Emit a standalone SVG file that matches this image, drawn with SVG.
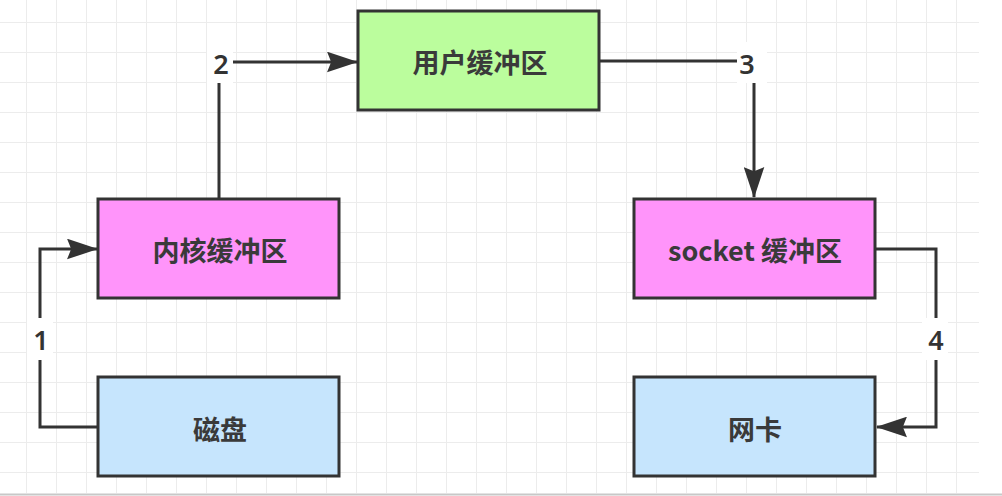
<svg xmlns="http://www.w3.org/2000/svg" width="1002" height="496" viewBox="0 0 1002 496">
  <defs>
    <pattern id="grid" x="0" y="0" width="30" height="30" patternUnits="userSpaceOnUse" patternTransform="translate(26 22)">
      <path d="M0 0 H30 M0 0 V30" fill="none" stroke="#ececec" stroke-width="2"/>
    </pattern>
    <marker id="arr" viewBox="0 0 30 20" refX="29" refY="10" markerWidth="31" markerHeight="21" markerUnits="userSpaceOnUse" orient="auto">
      <path d="M0 0 L30 10 L0 20 L4 10 Z" fill="#333333"/>
    </marker>
    <style>
      .box{stroke:#333333;stroke-width:3}
      .lbl{font-family:"Noto Sans CJK SC","Noto Sans",sans-serif;font-size:27px;font-weight:bold;fill:#3a3a3a;text-anchor:middle;dominant-baseline:central}
      .num{font-family:"Noto Sans","Open Sans",sans-serif;font-size:27px;font-weight:600;fill:#333333;text-anchor:middle;dominant-baseline:central}
      .conn{fill:none;stroke:#333333;stroke-width:3}
    </style>
  </defs>
  <rect x="0" y="0" width="1002" height="496" fill="#ffffff"/>
  <rect x="0" y="0" width="979" height="493" fill="url(#grid)"/>
  <line x1="0" y1="494.5" x2="1002" y2="494.5" stroke="#c8c8c8" stroke-width="2"/>

  <g id="connectors">
    <path class="conn" d="M98 427 H40 V249 H97" marker-end="url(#arr)"/>
    <path class="conn" d="M219 198 V62 H357" marker-end="url(#arr)"/>
    <path class="conn" d="M599 61 H754 V197" marker-end="url(#arr)"/>
    <path class="conn" d="M876 249 H936 V427 H877" marker-end="url(#arr)"/>
    <rect x="27" y="318" width="26" height="42" fill="#ffffff"/>
    <text class="num" x="41" y="339">1</text>
    <rect x="207" y="42" width="26" height="41" fill="#ffffff"/>
    <text class="num" x="221" y="63">2</text>
    <rect x="737" y="42" width="30" height="41" fill="#ffffff"/>
    <text class="num" x="747" y="63">3</text>
    <rect x="922" y="318" width="26" height="42" fill="#ffffff"/>
    <text class="num" x="936" y="339">4</text>
  </g>

  <g id="user-buffer">
    <rect class="box" x="358" y="11" width="241" height="99" fill="#bbfd9d"/>
    <text class="lbl" x="480" y="61">用户缓冲区</text>
  </g>
  <g id="kernel-buffer">
    <rect class="box" x="98" y="199" width="241" height="99" fill="#ff94fa"/>
    <text class="lbl" x="220" y="249">内核缓冲区</text>
  </g>
  <g id="disk">
    <rect class="box" x="98" y="377" width="241" height="99" fill="#c6e5fd"/>
    <text class="lbl" x="220" y="428">磁盘</text>
  </g>
  <g id="socket-buffer">
    <rect class="box" x="634" y="199" width="241" height="99" fill="#ff94fa"/>
    <text class="lbl" x="755" y="249">socket 缓冲区</text>
  </g>
  <g id="nic">
    <rect class="box" x="634" y="377" width="241" height="99" fill="#c6e5fd"/>
    <text class="lbl" x="755" y="428">网卡</text>
  </g>
</svg>
